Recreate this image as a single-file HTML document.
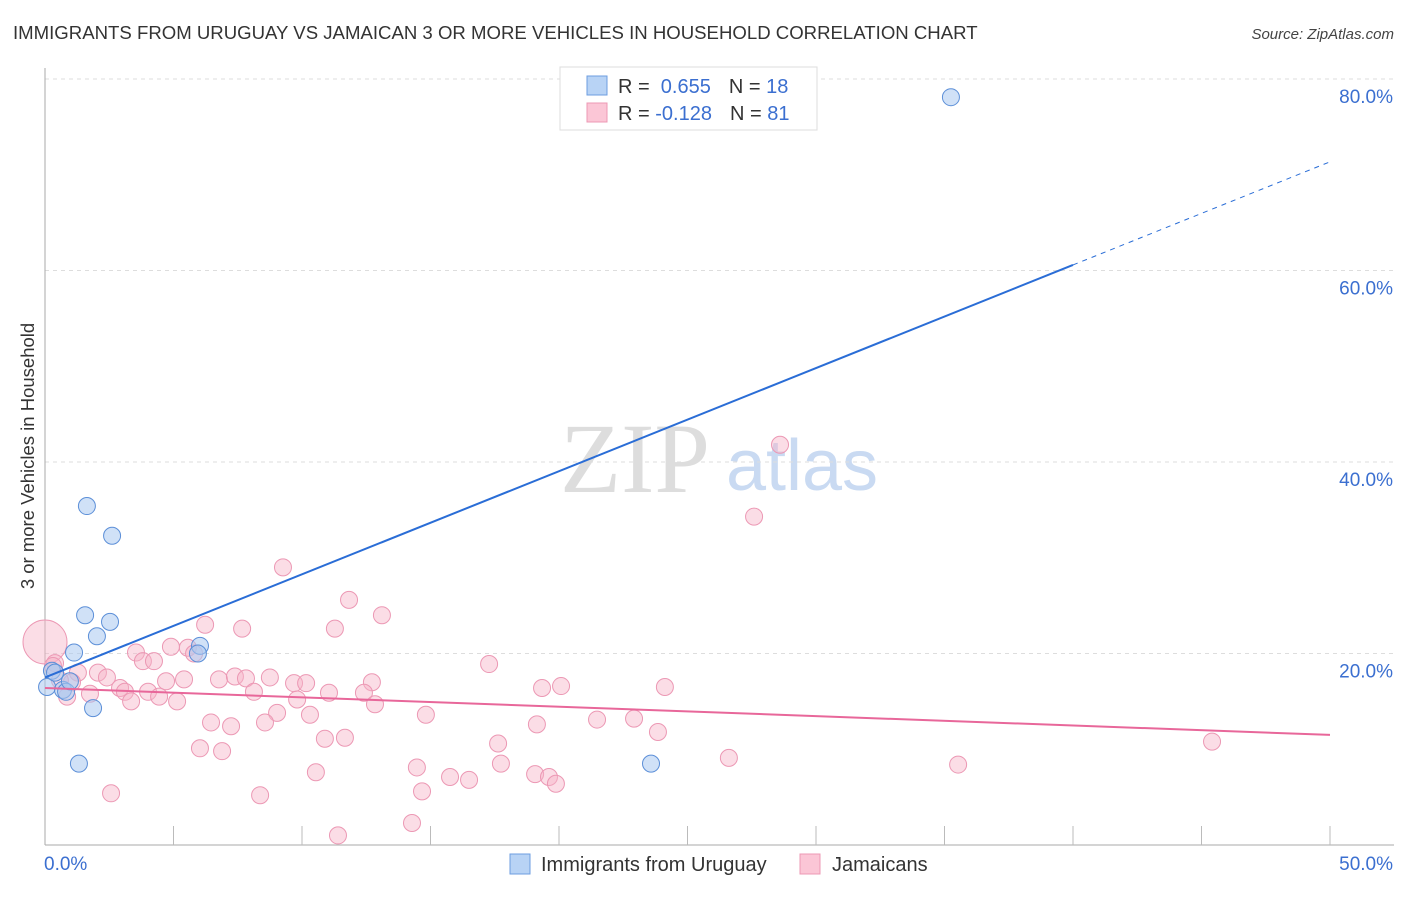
<!DOCTYPE html>
<html><head><meta charset="utf-8"><style>
body{margin:0;background:#fff;font-family:"Liberation Sans",sans-serif;}
</style></head><body>
<svg id="c" width="1406" height="892" xmlns="http://www.w3.org/2000/svg" font-family="Liberation Sans, sans-serif">
<text x="13" y="39" font-size="18.6" fill="#333">IMMIGRANTS FROM URUGUAY VS JAMAICAN 3 OR MORE VEHICLES IN HOUSEHOLD CORRELATION CHART</text>
<text x="1394" y="39" font-size="15" fill="#444" font-style="italic" text-anchor="end">Source: ZipAtlas.com</text>
<text transform="translate(34,456) rotate(-90)" font-size="18.5" fill="#333" text-anchor="middle">3 or more Vehicles in Household</text>
<g>
<text x="635" y="492" font-size="100" font-family="Liberation Serif, serif" fill="#ddd" text-anchor="middle">ZIP</text>
<text x="802" y="490" font-size="72" fill="#c9daf2" text-anchor="middle">atlas</text>
</g>
<g id="grid"></g><g id="axes"></g><g id="pts"></g><g id="lines"></g>
<g>
<rect x="560" y="67" width="257" height="63" fill="#fff" stroke="#ddd"/>
<rect x="587" y="76" width="20" height="19" fill="#b8d3f5" stroke="#6d9ee0"/>
<rect x="587" y="103" width="20" height="19" fill="#fbc6d6" stroke="#ec98b4"/>
<text x="618" y="93" font-size="20" fill="#333">R = <tspan fill="#3b6fd0">&#160;0.655</tspan><tspan dx="18">N = </tspan><tspan fill="#3b6fd0">18</tspan></text>
<text x="618" y="120" font-size="20" fill="#333">R = <tspan fill="#3b6fd0">-0.128</tspan><tspan dx="18">N = </tspan><tspan fill="#3b6fd0">81</tspan></text>
</g>
<g>
<rect x="510" y="854" width="20" height="20" fill="#b8d3f5" stroke="#6d9ee0"/>
<text x="541" y="871" font-size="20" fill="#333">Immigrants from Uruguay</text>
<rect x="800" y="854" width="20" height="20" fill="#fbc6d6" stroke="#ec98b4"/>
<text x="832" y="871" font-size="20" fill="#333">Jamaicans</text>
</g>
</svg>
<script>
const yTicks=[20,40,60,80];
const xTickLabels=["0.0%","50.0%"];
const blueX=[35.25,1.63,2.61,1.56,2.53,2.02,6.03,5.95,1.13,0.27,0.08,0.70,0.82,0.97,1.87,1.32,23.58,0.39];
const blueY=[78.1,35.4,32.3,24.0,23.3,21.8,20.8,20.0,20.1,18.2,16.5,16.2,16.0,17.1,14.3,8.5,8.5,18.0];
const pinkX=[0,11.83,13.11,6.23,7.67,11.28,4.90,5.56,5.80,3.54,3.81,4.24,17.28,0.39,2.06,2.41,1.28,1.05,4.71,5.41,6.77,7.39,7.82,8.75,9.69,10.16,12.72,2.92,3.11,4.01,4.44,5.14,3.35,8.13,9.81,11.05,12.41,12.84,1.75,0.86,9.03,8.56,10.31,14.82,6.46,7.24,6.03,6.89,10.89,11.67,17.63,17.74,14.47,14.67,15.76,16.50,10.54,2.57,8.37,14.28,11.40,9.26,28.60,27.59,19.34,20.08,21.48,22.92,23.85,26.61,35.53,45.41,24.12,19.07,19.61,19.88,19.14,0.31,0.58];
const pinkY=[21.2,25.6,24.0,23.0,22.6,22.6,20.7,20.6,20.0,20.1,19.2,19.2,18.9,19.0,18.0,17.5,18.0,17.0,17.1,17.3,17.3,17.6,17.4,17.5,16.9,16.9,17.0,16.4,16.0,16.0,15.5,15.0,15.0,16.0,15.2,15.9,15.9,14.7,15.8,15.5,13.8,12.8,13.6,13.6,12.8,12.4,10.1,9.8,11.1,11.2,10.6,8.5,8.1,5.6,7.1,6.8,7.6,5.4,5.2,2.3,1.0,29.0,41.8,34.3,16.4,16.6,13.1,13.2,11.8,9.1,8.4,10.8,16.5,7.4,7.1,6.4,12.6,18.7,17.2];
const blueTrend=[17.5,1.077];
const pinkTrend=[16.4,-0.098];
const NS="http://www.w3.org/2000/svg";
const sx=v=>45+v*25.7, sy=v=>845-v*9.575;
function mk(t,a,p){const e=document.createElementNS(NS,t);for(const k in a)e.setAttribute(k,a[k]);document.getElementById(p).appendChild(e);return e;}
yTicks.forEach(t=>{
 const l=mk('line',{x1:45,x2:1394,y1:sy(t),y2:sy(t),stroke:'#ddd','stroke-dasharray':'4,4'},'grid');
 
 
 const tx=mk('text',{x:1393,y:sy(t)+24,'font-size':19,fill:'#3b6fd0','text-anchor':'end'},'grid');
 tx.textContent=t.toFixed(1)+'%';
 
 
});
mk('line',{x1:45,x2:45,y1:68,y2:845,stroke:'#aaa'},'axes');
mk('line',{x1:45,x2:1394,y1:845,y2:845,stroke:'#aaa'},'axes');
for(let i=1;i<=10;i++){const t=mk('line',{x1:sx(i*5),x2:sx(i*5),y1:826,y2:845,stroke:'#bbb'},'axes');
 
 }
[0,50].forEach((v,i)=>{const t=mk('text',{x:i?1393:44,y:870,'font-size':19,fill:'#3b6fd0','text-anchor':i?'end':'start'},'axes');t.textContent=xTickLabels[i];
 
 });
pinkX.forEach((x,i)=>{const c=mk('circle',{cx:sx(x),cy:sy(pinkY[i]),r:i==0?22:8.5,fill:'rgba(247,180,200,0.45)',stroke:'#ec98b4','stroke-width':1},'pts');
 
 });
blueX.forEach((x,i)=>{const c=mk('circle',{cx:sx(x),cy:sy(blueY[i]),r:8.5,fill:'rgba(170,200,240,0.55)',stroke:'#5c8fd8','stroke-width':1},'pts');
 
 });
const b=mk('line',{x1:sx(0),y1:sy(blueTrend[0]),x2:sx(40),y2:sy(blueTrend[0]+40*blueTrend[1]),stroke:'#2a6dd6','stroke-width':2},'lines');


const bd=mk('line',{x1:sx(40),y1:sy(blueTrend[0]+40*blueTrend[1]),x2:sx(50),y2:sy(blueTrend[0]+50*blueTrend[1]),stroke:'#2a6dd6','stroke-width':1,'stroke-dasharray':'5,5'},'lines');


const p=mk('line',{x1:sx(0),y1:sy(pinkTrend[0]),x2:sx(50),y2:sy(pinkTrend[0]+50*pinkTrend[1]),stroke:'#e8679a','stroke-width':2},'lines');


</script>
</body></html>
